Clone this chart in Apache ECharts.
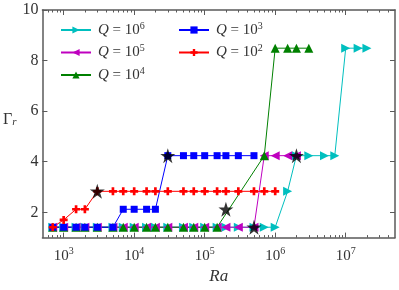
<!DOCTYPE html>
<html>
<head>
<meta charset="utf-8">
<script src="https://cdn.jsdelivr.net/npm/echarts@6/dist/echarts.min.js"></script>
<style>html,body{margin:0;padding:0;background:#fff}#c{width:399px;height:290px}</style>
</head>
<body>
<div id="c"></div>
<script>
// ---- data ----
const raQ6 = [700,1000,1500,2000,3000,5000,7000,1e4,1.5e4,2e4,3e4,5e4,7e4,1e5,1.5e5,2e5,3e5,5e5,7e5,1e6,1.5e6,2e6,3e6,5e6,7e6,1e7,1.5e7,2e7];
const gammaQ6 = [1.41,1.41,1.41,1.41,1.41,1.41,1.41,1.41,1.41,1.41,1.41,1.41,1.41,1.41,1.41,1.41,1.41,1.41,1.41,1.41,2.83,4.24,4.24,4.24,4.24,8.49,8.49,8.49];
const raQ5 = [700,1000,1500,2000,3000,5000,7000,1e4,1.5e4,2e4,3e4,5e4,7e4,1e5,1.5e5,2e5,3e5,5e5,7e5,1e6,1.5e6,2e6];
const gammaQ5 = [1.41,1.41,1.41,1.41,1.41,1.41,1.41,1.41,1.41,1.41,1.41,1.41,1.41,1.41,1.41,1.41,1.41,1.41,4.24,4.24,4.24,4.24];
const raQ4 = [700,1000,1500,2000,3000,5000,7000,1e4,1.5e4,2e4,3e4,5e4,7e4,1e5,1.5e5,7e5,1e6,1.5e6,2e6,3e6];
const gammaQ4 = [1.41,1.41,1.41,1.41,1.41,1.41,1.41,1.41,1.41,1.41,1.41,1.41,1.41,1.41,1.41,4.24,8.49,8.49,8.49,8.49];
const raQ3 = [700,1000,1500,2000,3000,5000,7000,1e4,1.5e4,2e4,3e4,5e4,7e4,1e5,1.5e5,2e5,3e5,5e5];
const gammaQ3 = [1.41,1.41,1.41,1.41,1.41,1.41,2.12,2.12,2.12,2.12,4.24,4.24,4.24,4.24,4.24,4.24,4.24,4.24];
const raQ2 = [700,1000,1500,2000,3000,5000,7000,1e4,1.5e4,2e4,3e4,5e4,7e4,1e5,1.5e5,2e5,3e5,5e5,7e5,1e6];
const gammaQ2 = [1.41,1.70,2.12,2.12,2.83,2.83,2.83,2.83,2.83,2.83,2.83,2.83,2.83,2.83,2.83,2.83,2.83,2.83,2.83,2.83];
const raStar = [3000,3e4,2e5,5e5,2e6];
const gammaStar = [2.83,4.24,2.12,1.41,4.24];
const xMajorTicks = [1e3,1e4,1e5,1e6,1e7];
const yMajorTicks = [2,4,6,8,10];
const xMinorTicks = [];
[100,1000,1e4,1e5,1e6,1e7].forEach(d => { for (let k=2;k<=9;k++){ const v=d*k; if (v>500 && v<5e7) xMinorTicks.push(v); } });

const zip = (a,b) => a.map((v,i)=>[v,b[i]]);

// ---- styles ----
const SERIF = 'Liberation Serif';
const AX = '#5a5a5a';
const starPath = (() => {
  const p = [];
  for (let i=0;i<10;i++){ const r = i%2 ? 0.382 : 1; const a = (-90 + i*36)*Math.PI/180; p.push((r*Math.cos(a)).toFixed(4)+','+(r*Math.sin(a)).toFixed(4)); }
  return 'path://M' + p.join('L') + 'Z';
})();
const plusPath = 'path://M-1,-3L1,-3L1,-1L3,-1L3,1L1,1L1,3L-1,3L-1,1L-3,1L-3,-1L-1,-1Z';

function lineSeries(name, data, color, symbol, size, rot) {
  return { name, type:'line', data, xAxisIndex:0, yAxisIndex:0,
    symbol, symbolSize:size, symbolRotate:rot||0, showAllSymbol:true,
    lineStyle:{color, width:1}, itemStyle:{color, borderWidth:0}, emphasis:{disabled:true}, animation:false, z:2 };
}

const sup = v => { const e = Math.round(Math.log10(v)); return Math.abs(Math.log10(v)-e) < 1e-6 ? '{a|10}{b|' + e + '}' : ''; };
const legendFmt = n => '{q|Q}{a| = 10}{b|' + n.slice(1) + '}';
const legendRich = {
  q:{fontFamily:SERIF, fontStyle:'italic', fontSize:15, color:'#333'},
  a:{fontFamily:SERIF, fontSize:15, color:'#333'},
  b:{fontFamily:SERIF, fontSize:10, color:'#333', padding:[0,0,8,0]}
};

const baseX = { type:'log', logBase:10, min:500, max:5e7, splitLine:{show:false}, axisLabel:{show:false} };
const option = {
  animation:false,
  grid:{left:42, right:4, top:10, bottom:43, containLabel:false},
  legend:[
    { data:['Q6','Q5','Q4'], orient:'vertical', left:55, top:16, itemWidth:30, itemHeight:9, itemGap:6,
      formatter:legendFmt, textStyle:{rich:legendRich, padding:[0,0,0,2]}, selectedMode:false },
    { data:['Q3','Q2'], orient:'vertical', left:173, top:16, itemWidth:30, itemHeight:9, itemGap:6,
      formatter:legendFmt, textStyle:{rich:legendRich, padding:[0,0,0,2]}, selectedMode:false }
  ],
  xAxis:[
    Object.assign({}, baseX, { position:'bottom',
      axisLine:{show:true, lineStyle:{color:AX, width:1.5}},
      axisTick:{show:true, inside:true, length:5, customValues:xMajorTicks, lineStyle:{color:AX}},
      axisLabel:{show:true, customValues:xMajorTicks, formatter:sup, margin:9,
        rich:{a:{fontFamily:SERIF, fontSize:15, color:'#333'}, b:{fontFamily:SERIF, fontSize:10, color:'#333', padding:[0,0,8,0]}}},
      name:'Ra', nameLocation:'middle', nameGap:28,
      nameTextStyle:{fontFamily:SERIF, fontStyle:'italic', fontSize:17, color:'#333'} }),
    Object.assign({}, baseX, { position:'bottom', axisLine:{show:false},
      axisTick:{show:true, inside:true, length:2.5, customValues:xMinorTicks, lineStyle:{color:AX}} }),
    Object.assign({}, baseX, { position:'top', axisLine:{show:true, lineStyle:{color:AX, width:1.5}},
      axisTick:{show:true, inside:true, length:5, customValues:xMajorTicks, lineStyle:{color:AX}} }),
    Object.assign({}, baseX, { position:'top', axisLine:{show:false},
      axisTick:{show:true, inside:true, length:2.5, customValues:xMinorTicks, lineStyle:{color:AX}} })
  ],
  yAxis:[
    { type:'value', min:1, max:10, position:'left', splitLine:{show:false},
      axisLine:{show:true, lineStyle:{color:AX, width:1.5}},
      axisTick:{show:true, inside:true, length:5, customValues:yMajorTicks, lineStyle:{color:AX}},
      axisLabel:{show:true, customValues:yMajorTicks, margin:4, fontFamily:SERIF, fontSize:16, color:'#333'},
      name:'{g|Γ}{r|r}', nameLocation:'middle', nameRotate:0, nameGap:23,
      nameTextStyle:{padding:[0,0,9,0], rich:{g:{fontFamily:SERIF, fontSize:16, color:'#333'}, r:{fontFamily:SERIF, fontStyle:'italic', fontSize:11, color:'#333', padding:[6,0,0,0]}}} },
    { type:'value', min:1, max:10, position:'right', splitLine:{show:false},
      axisLine:{show:true, lineStyle:{color:AX, width:1.5}},
      axisTick:{show:true, inside:true, length:5, customValues:yMajorTicks, lineStyle:{color:AX}},
      axisLabel:{show:false} }
  ],
  series:[
    lineSeries('Q6', zip(raQ6,gammaQ6), '#00bfbf', 'triangle', 9, -90),
    lineSeries('Q5', zip(raQ5,gammaQ5), '#bf00bf', 'triangle', 9, 90),
    lineSeries('Q4', zip(raQ4,gammaQ4), '#008000', 'triangle', 9, 0),
    lineSeries('Q3', zip(raQ3,gammaQ3), '#0000ff', 'rect', 7, 0),
    lineSeries('Q2', zip(raQ2,gammaQ2), '#ff0000', plusPath, 8, 0),
    { name:'onset', type:'scatter', data:zip(raStar,gammaStar), xAxisIndex:0, yAxisIndex:0,
      symbol:starPath, symbolSize:15, itemStyle:{color:'#000'}, z:5, emphasis:{disabled:true} }
  ]
};
const chart = echarts.init(document.getElementById('c'), null, {renderer:'canvas'});
chart.setOption(option);
</script>
</body>
</html>
